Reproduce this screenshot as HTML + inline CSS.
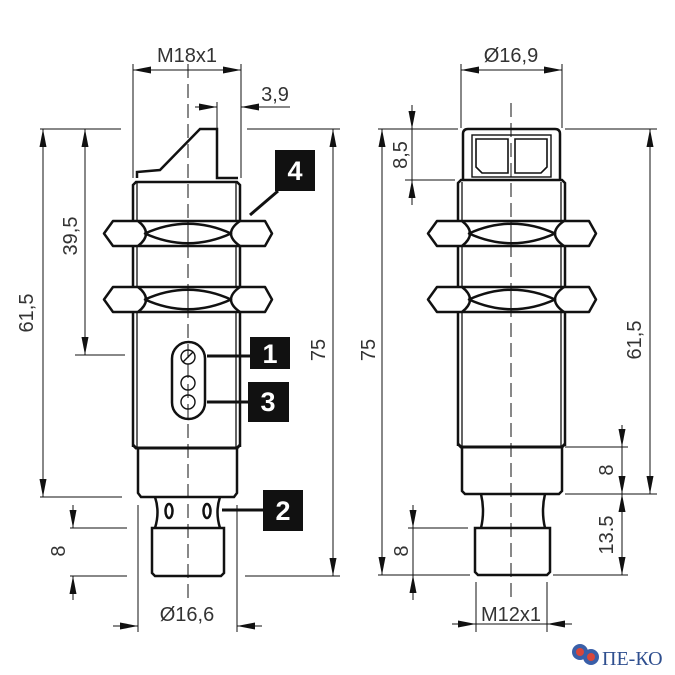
<!DOCTYPE html>
<html><head><meta charset="utf-8"><style>
html,body{margin:0;padding:0;background:#fff}
svg{display:block}
text{font-family:"Liberation Sans",sans-serif;fill:#333}
.t{font-size:20px}
.b{font-size:27px;font-weight:bold;fill:#fff}
</style></head><body>
<svg width="675" height="675" viewBox="0 0 675 675" xmlns="http://www.w3.org/2000/svg">
<defs>
<marker id="a" viewBox="0 0 18 7" refX="18" refY="3.5" markerWidth="18" markerHeight="7" markerUnits="userSpaceOnUse" orient="auto-start-reverse"><path d="M0,0L18,3.5L0,7z" fill="#111"/></marker>
<g id="nut" fill="#fff" stroke="#111" stroke-width="2.5" stroke-linejoin="round">
<path d="M104,233.5 L113,221 L265,221 L272,233.5 L265,246 L113,246 Z"/>
<path d="M138,221 Q154,233.5 138,246" fill="none"/>
<path d="M240,221 Q222,233.5 240,246" fill="none"/>
<path d="M145,233.5 Q188,214 231,233.5 Q188,253 145,233.5Z" fill="none"/>
</g>
</defs>

<!-- ================= LEFT VIEW ================= -->
<g stroke="#111" fill="none">
<g stroke-width="1">
<line x1="133" y1="64" x2="133" y2="178"/>
<line x1="241" y1="64" x2="241" y2="178"/>
<line x1="217" y1="102" x2="217" y2="130"/>
<line x1="40" y1="129" x2="121" y2="129"/>
<line x1="247" y1="129" x2="340" y2="129"/>
<line x1="75" y1="355" x2="125" y2="355"/>
<line x1="40" y1="497" x2="122" y2="497"/>
<line x1="70" y1="528" x2="127" y2="528"/>
<line x1="70" y1="576" x2="127" y2="576"/>
<line x1="245" y1="576" x2="340" y2="576"/>
<line x1="138" y1="505" x2="138" y2="632"/>
<line x1="237" y1="505" x2="237" y2="632"/>
<line x1="133" y1="70" x2="241" y2="70" marker-start="url(#a)" marker-end="url(#a)"/>
<line x1="195" y1="107" x2="217" y2="107" marker-end="url(#a)"/>
<line x1="290" y1="107" x2="241" y2="107" marker-end="url(#a)"/>
<line x1="43" y1="129" x2="43" y2="497" marker-start="url(#a)" marker-end="url(#a)"/>
<line x1="85" y1="129" x2="85" y2="355" marker-start="url(#a)" marker-end="url(#a)"/>
<line x1="333" y1="129" x2="333" y2="576" marker-start="url(#a)" marker-end="url(#a)"/>
<line x1="73" y1="505" x2="73" y2="528" marker-end="url(#a)"/>
<line x1="73" y1="600" x2="73" y2="576" marker-end="url(#a)"/>
<line x1="113" y1="626" x2="138" y2="626" marker-end="url(#a)"/>
<line x1="262" y1="626" x2="237" y2="626" marker-end="url(#a)"/>
<line x1="188" y1="64" x2="188" y2="600" stroke-dasharray="14,6"/>
<line x1="207" y1="356" x2="250" y2="356" stroke-width="3"/>
<line x1="207" y1="402" x2="250" y2="402" stroke-width="3"/>
<line x1="222" y1="510" x2="263" y2="510" stroke-width="3"/>
<line x1="278" y1="191" x2="250" y2="215" stroke-width="3"/>
</g>
<g stroke-width="2.5">
<path d="M137,178 L137,172 L160,170 L200,129 L217,129 L217,178 L238,178"/>
<path d="M133,447 L133,185 L136,182 L237,182 L240,185 L240,447"/>
<line x1="137" y1="183" x2="137" y2="447" stroke-width="1.3"/>
<line x1="236" y1="183" x2="236" y2="447" stroke-width="1.3"/>
<path d="M133,445 L136,448 L237,448 L240,445" stroke-width="3"/>
<path d="M138,448 L138,493 L141,497 L234,497 L237,493 L237,448"/>
<path d="M155,497 Q160,512 155,528 M220,497 Q215,512 220,528"/>
<path d="M152,528 L224,528 L224,573 L221,576 L155,576 L152,573 Z"/>
<ellipse cx="169" cy="511" rx="3.5" ry="7"/>
<ellipse cx="207" cy="511" rx="3.5" ry="7"/>
<rect x="172" y="342" width="33" height="77" rx="16.5"/>
<circle cx="188" cy="357" r="7" stroke-width="1.4"/>
<line x1="183" y1="362" x2="193" y2="352" stroke-width="1.4"/>
<circle cx="188" cy="383" r="7" stroke-width="1.4"/>
<circle cx="188" cy="402" r="7" stroke-width="1.4"/>
</g>
</g>
<use href="#nut"/>
<use href="#nut" y="66"/>
<line x1="188" y1="222" x2="188" y2="245" stroke="#111" stroke-width="1"/>
<line x1="188" y1="288" x2="188" y2="311" stroke="#111" stroke-width="1"/>

<rect x="250" y="337" width="40" height="32" fill="#111"/><text class="b" x="270" y="363" text-anchor="middle">1</text>
<rect x="248" y="382" width="41" height="40" fill="#111"/><text class="b" x="268" y="411" text-anchor="middle">3</text>
<rect x="263" y="490" width="40" height="41" fill="#111"/><text class="b" x="283" y="520" text-anchor="middle">2</text>
<rect x="275" y="150" width="40" height="41" fill="#111"/><text class="b" x="295" y="180" text-anchor="middle">4</text>

<text class="t" x="187" y="62" text-anchor="middle">M18x1</text>
<text class="t" x="275" y="101" text-anchor="middle">3,9</text>
<text class="t" x="187" y="621" text-anchor="middle">Ø16,6</text>
<text class="t" transform="translate(33,313) rotate(-90)" text-anchor="middle">61,5</text>
<text class="t" transform="translate(77,236) rotate(-90)" text-anchor="middle">39,5</text>
<text class="t" transform="translate(65,551) rotate(-90)" text-anchor="middle">8</text>
<text class="t" transform="translate(325,350) rotate(-90)" text-anchor="middle">75</text>

<!-- ================= RIGHT VIEW ================= -->
<g stroke="#111" fill="none">
<g stroke-width="1">
<line x1="461" y1="64" x2="461" y2="128"/>
<line x1="562" y1="64" x2="562" y2="128"/>
<line x1="378" y1="129" x2="458" y2="129"/>
<line x1="565" y1="129" x2="657" y2="129"/>
<line x1="405" y1="180" x2="455" y2="180"/>
<line x1="565" y1="447" x2="628" y2="447"/>
<line x1="565" y1="494" x2="657" y2="494"/>
<line x1="408" y1="528" x2="468" y2="528"/>
<line x1="378" y1="575" x2="470" y2="575"/>
<line x1="553" y1="575" x2="628" y2="575"/>
<line x1="476" y1="582" x2="476" y2="632"/>
<line x1="547" y1="582" x2="547" y2="632"/>
<line x1="461" y1="70" x2="562" y2="70" marker-start="url(#a)" marker-end="url(#a)"/>
<line x1="382" y1="129" x2="382" y2="575" marker-start="url(#a)" marker-end="url(#a)"/>
<line x1="650" y1="129" x2="650" y2="494" marker-start="url(#a)" marker-end="url(#a)"/>
<line x1="412" y1="105" x2="412" y2="129" marker-end="url(#a)"/>
<line x1="412" y1="205" x2="412" y2="180" marker-end="url(#a)"/>
<line x1="412" y1="129" x2="412" y2="180"/>
<line x1="622" y1="425" x2="622" y2="447" marker-end="url(#a)"/>
<line x1="622" y1="447" x2="622" y2="494" marker-end="url(#a)"/>
<line x1="622" y1="494" x2="622" y2="575" marker-start="url(#a)" marker-end="url(#a)"/>
<line x1="413" y1="505" x2="413" y2="528" marker-end="url(#a)"/>
<line x1="413" y1="600" x2="413" y2="575" marker-end="url(#a)"/>
<line x1="413" y1="528" x2="413" y2="575"/>
<line x1="452" y1="624" x2="476" y2="624" marker-end="url(#a)"/>
<line x1="572" y1="624" x2="547" y2="624" marker-end="url(#a)"/>
<line x1="476" y1="624" x2="547" y2="624"/>
<line x1="511" y1="103" x2="511" y2="600" stroke-dasharray="14,6"/>
</g>
<g stroke-width="2.5">
<path d="M463,180 L463,134 Q463,129 468,129 L555,129 Q560,129 560,134 L560,180"/>
<rect x="472" y="135" width="79" height="42" stroke-width="1.4"/>
<path d="M476,139 L508,139 L508,173 L482,173 L476,167 Z M515,139 L547,139 L547,167 L541,173 L515,173 Z" stroke-width="1.6"/>
<path d="M458,446 L458,183 L461,180 L562,180 L565,183 L565,446"/>
<line x1="462" y1="182" x2="462" y2="446" stroke-width="1.3"/>
<line x1="561" y1="182" x2="561" y2="446" stroke-width="1.3"/>
<path d="M458,444 L461,447 L562,447 L565,444" stroke-width="3"/>
<path d="M462,447 L462,491 L465,494 L559,494 L562,491 L562,447"/>
<path d="M481,494 Q485,511 481,528 M545,494 Q541,511 545,528"/>
<path d="M475,528 L550,528 L550,572 L547,575 L478,575 L475,572 Z"/>
</g>
</g>
<use href="#nut" x="324"/>
<use href="#nut" x="324" y="66"/>
<line x1="511" y1="222" x2="511" y2="245" stroke="#111" stroke-width="1"/>
<line x1="511" y1="288" x2="511" y2="311" stroke="#111" stroke-width="1"/>

<text class="t" x="511" y="62" text-anchor="middle">Ø16,9</text>
<text class="t" x="511" y="621" text-anchor="middle">M12x1</text>
<text class="t" transform="translate(375,350) rotate(-90)" text-anchor="middle">75</text>
<text class="t" transform="translate(407,155) rotate(-90)" text-anchor="middle">8,5</text>
<text class="t" transform="translate(641,340) rotate(-90)" text-anchor="middle">61,5</text>
<text class="t" transform="translate(613,470) rotate(-90)" text-anchor="middle">8</text>
<text class="t" transform="translate(613,535) rotate(-90)" text-anchor="middle">13.5</text>
<text class="t" transform="translate(408,551) rotate(-90)" text-anchor="middle">8</text>

<circle cx="580" cy="652" r="8" fill="#3a5fa8"/>
<circle cx="591" cy="657" r="8" fill="#3a5fa8"/>
<circle cx="580" cy="652" r="4" fill="#d9463a"/>
<circle cx="591" cy="657" r="4" fill="#d9463a"/>
<text x="602" y="665" style="font-family:'Liberation Serif',serif;font-size:20px;fill:#2f4f8f">ПЕ-КО</text>
</svg>
</body></html>
